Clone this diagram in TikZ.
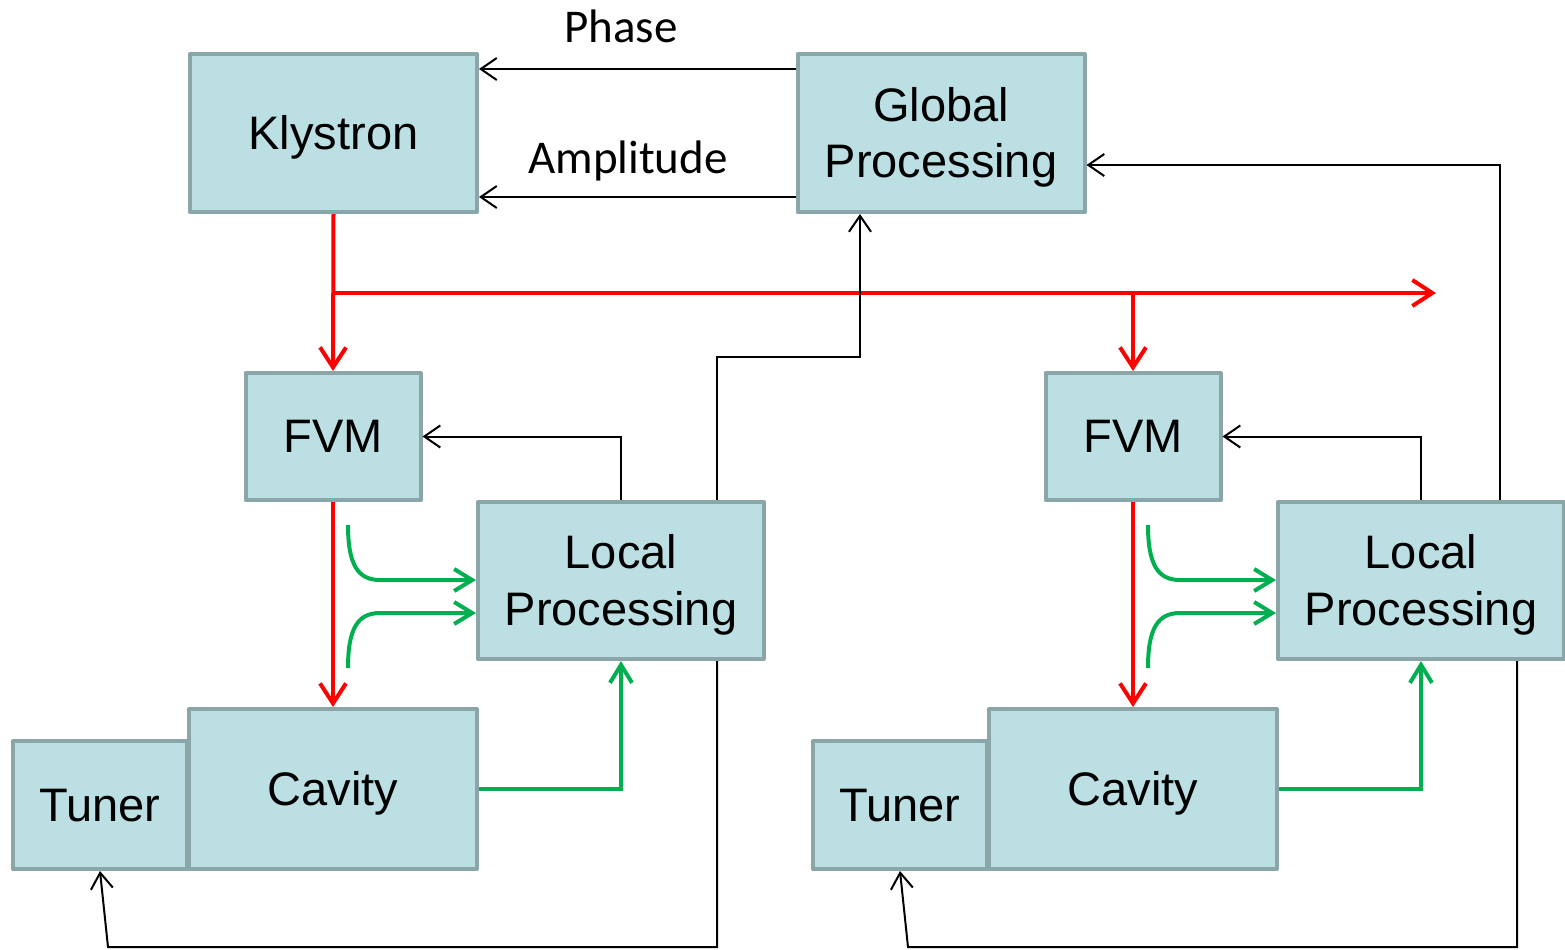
\documentclass[tikz,border=0pt]{standalone}
\usepackage{fontspec}
\setmainfont{Liberation Sans}
\newfontfamily\lblfont{Carlito}
\usetikzlibrary{arrows.meta}
\definecolor{boxfill}{HTML}{BBDFE2}
\definecolor{boxline}{HTML}{8BA6A9}
\definecolor{sigred}{HTML}{FF0000}
\definecolor{siggreen}{HTML}{00B050}
\begin{document}
\begin{tikzpicture}[x=0.5pt,y=-0.5pt,
  box/.style={draw=boxline, fill=boxfill, line width=2pt, inner sep=0pt, line join=round,
    font=\fontsize{23.5}{28.2}\selectfont, align=center, text height=21.3pt, text depth=5pt},
  twoline/.style={text height=49.5pt},
  bigbox/.style={box, minimum width=143.5pt, minimum height=79pt},
  lpbox/.style={box, twoline, minimum width=143pt, minimum height=78.5pt},
  fvmbox/.style={box, minimum width=87.5pt, minimum height=63.5pt},
  tunbox/.style={box, minimum width=87pt, minimum height=64pt},
  cavbox/.style={box, minimum width=144pt, minimum height=80pt},
  lbl/.style={font=\lblfont\fontsize{23.5}{28.2}\selectfont, inner sep=0pt, anchor=base},
  blk/.style={draw=black, line width=1pt, -{Straight Barb[length=8pt,width=11pt]}},
  rd/.style={draw=sigred, line width=2pt, -{Straight Barb[length=10pt,width=13pt]}},
  gr/.style={draw=siggreen, line width=2pt, -{Straight Barb[length=9pt,width=11pt]}}
]
\useasboundingbox (0,0) rectangle (1565,949);

% boxes
\node[bigbox] (kly) at (333.5,133) {Klystron};
\node[bigbox, twoline] (gp) at (941,133) {Global\\Processing};
\node[fvmbox] (fvm1) at (333,436.5) {FVM};
\node[fvmbox] (fvm2) at (1133,436.5) {FVM};
\node[lpbox] (lp1) at (621,580.5) {Local\\Processing};
\node[lpbox] (lp2) at (1421,580.5) {Local\\Processing};
\node[tunbox] (tun1) at (100,805) {Tuner};
\node[cavbox] (cav1) at (333,789) {Cavity};
\node[tunbox] (tun2) at (900,805) {Tuner};
\node[cavbox] (cav2) at (1133,789) {Cavity};

% labels
\node[lbl] (phase) at (621,42) {Phase};
\node[lbl] (ampl) at (628,173) {Amplitude};

% helper coordinates
\coordinate (yph) at (0,69);
\coordinate (yam) at (0,197);
\coordinate (rsplit) at (333,293);
\coordinate (rbranch) at (1133,293);
\coordinate (rend) at (1436,293);
\coordinate (c1) at (717,357);
\coordinate (c2) at (860,357);
\coordinate (c3) at (1500,165);
\coordinate (d1) at (717,947);
\coordinate (d2) at (108,947);
\coordinate (d3) at (1517,947);
\coordinate (d4) at (908,947);
\coordinate (ya) at (0,580);
\coordinate (yb) at (0,613);
\coordinate (g1s) at (348,525);
\coordinate (g2s) at (348,668);
\coordinate (g3s) at (1148,525);
\coordinate (g4s) at (1148,668);

% global <-> klystron
\draw[blk] (gp.west |- yph) -- (kly.east |- yph);
\draw[blk] (gp.west |- yam) -- (kly.east |- yam);

% red RF path
\draw[rd] (kly.south) -- (fvm1.north);
\draw[rd] (rsplit) -- (rend);
\draw[rd] (rbranch) -- (fvm2.north);
\draw[rd] (fvm1.south) -- (cav1.north);
\draw[rd] (fvm2.south) -- (cav2.north);

% local processing -> FVM
\draw[blk] (lp1.north) |- (fvm1.east);
\draw[blk] (lp2.north) |- (fvm2.east);

% local processing -> global
\draw[blk] (c1 |- lp1.north) -- (c1) -- (c2) -- (c2 |- gp.south);
\draw[blk] (c3 |- lp2.north) -- (c3) -- (c3 -| gp.east);

% local processing -> tuner
\draw[blk] (d1 |- lp1.south) -- (d1) -- (d2) -- (tun1.south);
\draw[blk] (d3 |- lp2.south) -- (d3) -- (d4) -- (tun2.south);

% green signals
\draw[gr] (g1s) .. controls (348,565) and (358,580) .. (380,580) -- (lp1.west |- ya);
\draw[gr] (g2s) .. controls (348,628) and (358,613) .. (380,613) -- (lp1.west |- yb);
\draw[gr] (g3s) .. controls (1148,565) and (1158,580) .. (1180,580) -- (lp2.west |- ya);
\draw[gr] (g4s) .. controls (1148,628) and (1158,613) .. (1180,613) -- (lp2.west |- yb);
\draw[gr] (cav1.east) -| (lp1.south);
\draw[gr] (cav2.east) -| (lp2.south);
\end{tikzpicture}
\end{document}
